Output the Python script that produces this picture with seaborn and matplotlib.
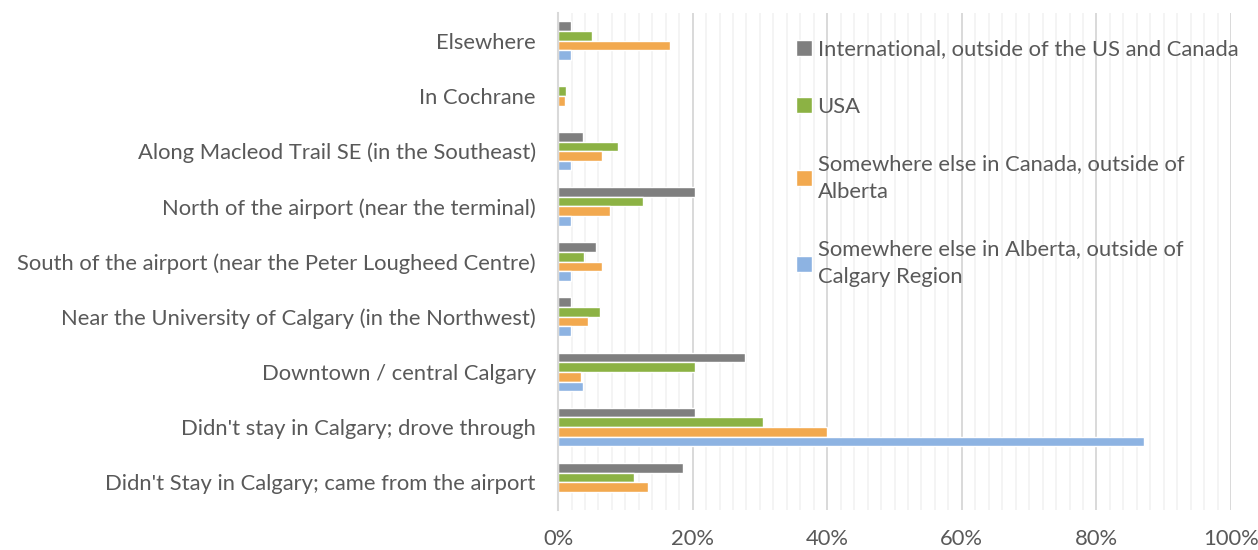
import pandas as pd
import matplotlib.pyplot as plt
import seaborn as sns
from matplotlib.ticker import MultipleLocator, PercentFormatter

# categories (top to bottom)
locations = [
    "Elsewhere",
    "In Cochrane",
    "Along Macleod Trail SE (in the Southeast)",
    "North of the airport (near the terminal)",
    "South of the airport (near the Peter Lougheed Centre)",
    "Near the University of Calgary (in the Northwest)",
    "Downtown / central Calgary",
    "Didn't stay in Calgary; drove through",
    "Didn't Stay in Calgary; came from the airport",
]

origins = [
    "International, outside of the US and Canada",
    "USA",
    "Somewhere else in Canada, outside of\nAlberta",
    "Somewhere else in Alberta, outside of\nCalgary Region",
]

# percent values
international = [1.9, 0.0, 3.7, 20.4, 5.6, 1.9, 27.8, 20.4, 18.5]
usa = [5.0, 1.2, 8.9, 12.6, 3.8, 6.3, 20.3, 30.4, 11.3]
canada = [16.6, 1.1, 6.6, 7.7, 6.6, 4.4, 3.4, 40.0, 13.3]
alberta = [1.9, 0.0, 1.9, 1.9, 1.9, 1.9, 3.7, 87.1, 0.0]

colors = ["#7F7F7F", "#8CB244", "#F2A94F", "#8DB3E2"]

# long table for seaborn
rows = []
for name, vals in zip(origins, [international, usa, canada, alberta]):
    for loc, v in zip(locations, vals):
        rows.append({"location": loc, "origin": name, "pct": v})
df = pd.DataFrame(rows)

sns.set_style("white")
plt.rcParams["font.family"] = ["Lato", "DejaVu Sans"]

fig = plt.figure(figsize=(12.58, 5.5), dpi=100)
ax = fig.add_axes([0.4436, 0.073, 0.535, 0.903])

sns.barplot(data=df, y="location", x="pct", hue="origin",
            order=locations, hue_order=origins, palette=colors,
            orient="h", width=0.7, saturation=1, ax=ax)

ax.set_xlim(0, 100)
ax.set_ylim(8.5, -0.5)
ax.xaxis.set_major_locator(MultipleLocator(20))
ax.xaxis.set_minor_locator(MultipleLocator(2))
ax.xaxis.set_major_formatter(PercentFormatter(decimals=0))
ax.grid(axis="x", which="minor", color="#F2F2F2", lw=1.2, zorder=0)
ax.grid(axis="x", which="major", color="#D9D9D9", lw=1.4, zorder=0)
ax.set_axisbelow(True)

for s in ["top", "right", "bottom"]:
    ax.spines[s].set_visible(False)
ax.spines["left"].set_color("#D9D9D9")
ax.spines["left"].set_linewidth(1.5)

ax.set_xlabel("")
ax.set_ylabel("")
ax.tick_params(axis="both", which="both", length=0, labelsize=15.8,
               labelcolor="#595959")
ax.tick_params(axis="y", pad=16)
ax.tick_params(axis="x", pad=14)

leg = ax.legend(loc="upper left", bbox_to_anchor=(0.34, 0.965), frameon=False,
                fontsize=15.8, labelcolor="#595959", labelspacing=1.7,
                handlelength=0.75, handleheight=0.75, handletextpad=0.25,
                borderaxespad=0)
for t in leg.get_texts():
    t.set_linespacing(1.5)

fig.savefig("out.png", dpi=100)
